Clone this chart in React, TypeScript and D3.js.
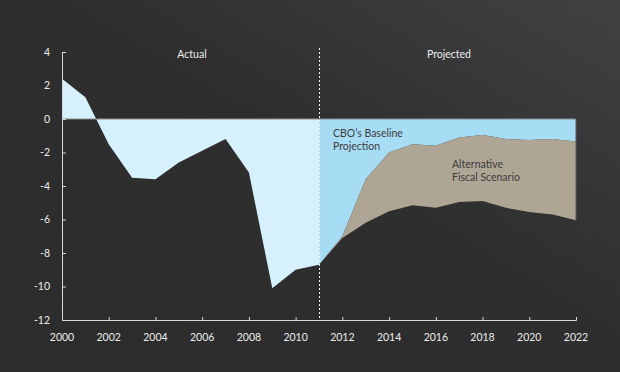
import React, { useEffect, useRef } from 'react';
import * as d3 from 'd3';

// actual deficit, % of GDP
const actualYears = [2000, 2001, 2002, 2003, 2004, 2005, 2006, 2007, 2008, 2009, 2010, 2011];
const actualValues = [2.4, 1.3, -1.5, -3.5, -3.6, -2.6, -1.9, -1.2, -3.2, -10.1, -9.0, -8.7];

// projections
const projYears = [2011, 2012, 2013, 2014, 2015, 2016, 2017, 2018, 2019, 2020, 2021, 2022];
const baselineValues = [-8.7, -7.0, -3.6, -2.0, -1.5, -1.6, -1.1, -0.95, -1.2, -1.25, -1.2, -1.35];
const alternativeValues = [-8.7, -7.1, -6.2, -5.5, -5.15, -5.3, -4.95, -4.9, -5.3, -5.55, -5.7, -6.05];

const yTicks = [4, 2, 0, -2, -4, -6, -8, -10, -12];
const xTicks = [2000, 2002, 2004, 2006, 2008, 2010, 2012, 2014, 2016, 2018, 2020, 2022];

const W = 620, H = 372;
const FONT = 'Lato, "Open Sans", sans-serif';

const App = () => {
  const ref = useRef<SVGSVGElement>(null);

  useEffect(() => {
    const svg = d3.select(ref.current);
    svg.selectAll('*').remove();

    const x = d3.scaleLinear().domain([2000, 2022]).range([62, 576]);
    const y = d3.scaleLinear().domain([-12, 4]).range([320, 52]);

    // background
    const defs = svg.append('defs');
    const grad = defs.append('linearGradient')
      .attr('id', 'bg').attr('x1', '0').attr('y1', '1').attr('x2', '1').attr('y2', '0');
    grad.append('stop').attr('offset', '0%').attr('stop-color', '#2c2c2c');
    grad.append('stop').attr('offset', '55%').attr('stop-color', '#2e2e2e');
    grad.append('stop').attr('offset', '100%').attr('stop-color', '#404143');
    svg.append('rect').attr('width', W).attr('height', H).attr('fill', 'url(#bg)');

    const actual = actualYears.map((yr, i) => ({ yr, v: actualValues[i] }));
    const proj = projYears.map((yr, i) => ({ yr, b: baselineValues[i], a: alternativeValues[i] }));

    // actual area
    svg.append('path')
      .datum(actual)
      .attr('fill', '#d6f1fc')
      .attr('d', d3.area<any>().x(d => x(d.yr)).y0(y(0)).y1(d => y(d.v)));

    // baseline area
    svg.append('path')
      .datum(proj)
      .attr('fill', '#a7dcf5')
      .attr('d', d3.area<any>().x(d => x(d.yr)).y0(y(0)).y1(d => y(d.b)));

    // alternative scenario band
    svg.append('path')
      .datum(proj)
      .attr('fill', '#aea595')
      .attr('d', d3.area<any>().x(d => x(d.yr)).y0(d => y(d.b)).y1(d => y(d.a)));

    // zero line and right edge
    svg.append('line')
      .attr('x1', x(2000)).attr('x2', x(2022)).attr('y1', y(0)).attr('y2', y(0))
      .attr('stroke', '#8c8c8c').attr('stroke-width', 1);
    svg.append('line')
      .attr('x1', x(2022)).attr('x2', x(2022))
      .attr('y1', y(0)).attr('y2', y(alternativeValues[alternativeValues.length - 1]))
      .attr('stroke', '#5a5a5a').attr('stroke-width', 1);

    // divider actual/projected
    svg.append('line')
      .attr('x1', x(2011) + 0.5).attr('x2', x(2011) + 0.5).attr('y1', 48).attr('y2', 320)
      .attr('stroke', '#f0f0f0').attr('stroke-width', 1).attr('stroke-dasharray', '2,2');

    // axes
    const yAxis = d3.axisRight(y).tickValues(yTicks).tickSize(4).tickFormat(() => '');
    svg.append('g').attr('transform', `translate(${x(2000)},0)`).call(yAxis)
      .call(g => g.selectAll('line, path').attr('stroke', '#d8d8d8'));

    const xAxis = d3.axisTop(x).tickValues(xTicks).tickSize(3).tickFormat(() => '');
    svg.append('g').attr('transform', `translate(0,${y(-12)})`).call(xAxis)
      .call(g => g.selectAll('line, path').attr('stroke', '#d8d8d8'));

    // tick labels
    svg.append('g').selectAll('text').data(yTicks).join('text')
      .attr('x', 50).attr('y', d => y(d) + 3.5)
      .attr('text-anchor', 'end')
      .attr('fill', '#ececec').attr('font-size', 10.5).attr('font-family', FONT)
      .text(d => d);

    svg.append('g').selectAll('text').data(xTicks).join('text')
      .attr('x', d => x(d)).attr('y', 341)
      .attr('text-anchor', 'middle')
      .attr('fill', '#ececec').attr('font-size', 10.5).attr('font-family', FONT)
      .text(d => d);

    // section labels
    svg.append('text').attr('x', 192).attr('y', 58).attr('text-anchor', 'middle')
      .attr('fill', '#ececec').attr('font-size', 10.5).attr('font-family', FONT).text('Actual');
    svg.append('text').attr('x', 449).attr('y', 58).attr('text-anchor', 'middle')
      .attr('fill', '#ececec').attr('font-size', 10.5).attr('font-family', FONT).text('Projected');

    // series labels, one text per line
    const lab = (tx: number, ty: number, lines: string[]) => {
      lines.forEach((l, i) => svg.append('text')
        .attr('x', tx).attr('y', ty + i * 12.5)
        .attr('fill', '#3d3d3d').attr('font-size', 10.5).attr('font-family', FONT)
        .text(l));
    };
    lab(333, 137, ['CBO\u2019s Baseline', 'Projection']);
    lab(452, 168, ['Alternative', 'Fiscal Scenario']);
  }, []);

  return (
    <div style={{ position: 'fixed', left: 0, top: 0 }}>
      <svg ref={ref} width={W} height={H} style={{ display: 'block' }} />
    </div>
  );
};

export default App;
